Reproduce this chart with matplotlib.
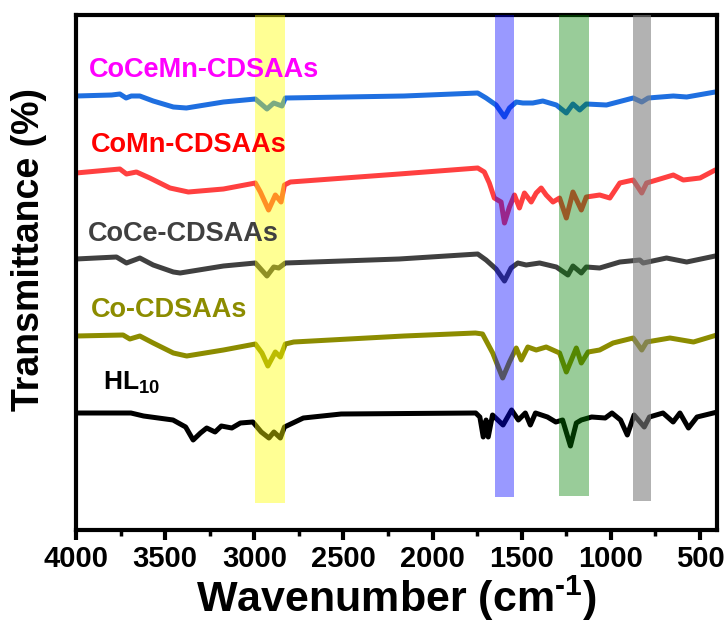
import matplotlib
matplotlib.use("Agg")
import matplotlib.pyplot as plt
from matplotlib.ticker import MultipleLocator

plt.rcParams['font.family'] = ['Liberation Sans', 'DejaVu Sans']
plt.rcParams['font.weight'] = 'bold'
plt.rcParams['mathtext.fontset'] = 'custom'
plt.rcParams['mathtext.rm'] = 'Liberation Sans:bold'
plt.rcParams['mathtext.bf'] = 'Liberation Sans:bold'
plt.rcParams['mathtext.default'] = 'bf'

# ---------------- data (offset transmittance, arbitrary units) ----------------
blue_wn = [4000, 3800, 3754, 3719, 3690, 3642, 3567, 3454, 3381, 3173, 2994, 2929, 2891, 2845, 2826,
           2160, 1747, 1700, 1644, 1597, 1569, 1531, 1494, 1438, 1382, 1306, 1250, 1213, 1175, 1138,
           1025, 875, 827, 791, 650, 575, 415]
blue_T = [434, 435, 436, 432, 434, 434, 429, 423, 422, 428, 431, 421, 427, 424, 432,
          434, 437, 432, 425, 413, 422, 428, 427, 427, 429, 425, 417, 426, 420, 426,
          425, 432, 428, 432, 434, 433, 438]

red_wn = [4000, 3754, 3717, 3661, 3586, 3473, 3370, 3173, 2994, 2966, 2920, 2882, 2850, 2831, 2798,
          2188, 1747, 1710, 1682, 1654, 1616, 1597, 1569, 1541, 1513, 1485, 1447, 1419, 1391, 1363,
          1325, 1288, 1250, 1213, 1166, 1138, 1063, 1006, 950, 875, 827, 800, 706, 650, 594, 500, 415]
red_T = [357, 361, 356, 358, 352, 342, 338, 341, 347, 338, 320, 335, 328, 345, 348,
         356, 362, 358, 347, 332, 328, 307, 323, 335, 322, 337, 328, 337, 342, 335,
         328, 332, 312, 338, 320, 333, 335, 332, 347, 350, 337, 347, 352, 355, 350, 352, 360]

gray_wn = [4000, 3773, 3717, 3642, 3567, 3454, 3416, 3173, 2994, 2929, 2891, 2863, 2826,
           2188, 1747, 1700, 1644, 1597, 1560, 1522, 1475, 1400, 1306, 1241, 1213, 1166, 1138,
           1063, 950, 838, 819, 688, 575, 415]
gray_T = [271, 273, 267, 272, 265, 258, 257, 264, 267, 254, 263, 262, 267,
          271, 276, 270, 261, 249, 262, 267, 265, 267, 263, 255, 264, 257, 263,
          262, 268, 270, 267, 272, 268, 274]

olive_wn = [4000, 3736, 3698, 3642, 3567, 3454, 3379, 3173, 2994, 2957, 2924, 2882, 2854, 2826, 2779,
            2160, 1760, 1720, 1690, 1663, 1607, 1569, 1531, 1503, 1466, 1419, 1363, 1288, 1250, 1194,
            1166, 1128, 1063, 988, 875, 827, 800, 669, 537, 406]
olive_T = [194, 195, 191, 194, 187, 177, 174, 180, 186, 177, 164, 178, 173, 186, 188,
           194, 197, 196, 186, 177, 152, 168, 182, 170, 183, 180, 183, 177, 158, 182,
           167, 178, 180, 187, 192, 180, 188, 192, 188, 195]

black_wn = [4000, 3692, 3621, 3456, 3385, 3343, 3302, 3267, 3220, 3185, 3126, 3078, 3008, 2961, 2918,
            2890, 2854, 2831, 2725, 2513, 1758, 1735, 1716, 1700, 1688, 1664, 1605, 1557, 1519, 1480,
            1452, 1423, 1356, 1309, 1271, 1227, 1194, 1166, 1108, 1032, 994, 946, 908, 870, 813,
            784, 708, 651, 613, 565, 517, 403]
black_T = [117, 117, 114, 110, 103, 90, 97, 102, 98, 104, 102, 107, 108, 98, 92,
           98, 92, 103, 112, 116, 117, 113, 93, 110, 93, 115, 105, 120, 110, 117,
           105, 117, 113, 108, 110, 84, 107, 110, 113, 112, 117, 110, 95, 115, 103,
           113, 117, 108, 117, 102, 113, 118]

series_names = ['CoCeMn-CDSAAs', 'CoMn-CDSAAs', 'CoCe-CDSAAs', 'Co-CDSAAs', 'HL$_{10}$']
line_colors = ['#1f6fe0', '#ff4040', '#404040', '#8c8c00', '#000000']
label_colors = ['#ff00ff', '#ff0000', '#404040', '#8c8c00', '#000000']

# highlighted bands (wavenumber ranges)
band_lo = [2826, 1546, 1124, 777]
band_hi = [2998, 1648, 1293, 877]
band_bottom = [27, 33, 34, 29]
band_colors = ['yellow', 'blue', 'green', 'gray']
band_alpha = [0.42, 0.4, 0.4, 0.6]

x_ticks = [4000, 3500, 3000, 2500, 2000, 1500, 1000, 500]

# ---------------- figure ----------------
fig = plt.figure(figsize=(7.27, 6.23), dpi=100)
ax = fig.add_axes([76 / 727, 1 - 530 / 623, 641 / 727, 515 / 623])

wns = [blue_wn, red_wn, gray_wn, olive_wn, black_wn]
Ts = [blue_T, red_T, gray_T, olive_T, black_T]
for wn, T, c in zip(wns, Ts, line_colors):
    ax.plot(wn, T, color=c, lw=3.6, solid_joinstyle='round', solid_capstyle='round', zorder=2)

top = 520
for lo, hi, b, c, a in zip(band_lo, band_hi, band_bottom, band_colors, band_alpha):
    ax.bar(lo, top - b, width=hi - lo, bottom=b, align='edge', color=c, alpha=a,
           linewidth=0, zorder=3)

label_x = [0.020, 0.023, 0.018, 0.023, 0.042]
label_y = [0.880, 0.734, 0.561, 0.414, 0.272]
label_size = [19.5, 19.5, 19.5, 19.5, 19]
for name, c, lx, ly, fs in zip(series_names, label_colors, label_x, label_y, label_size):
    ax.text(lx, ly, name, color=c, fontsize=fs, fontweight='bold',
            transform=ax.transAxes, ha='left', va='baseline', zorder=4)

ax.set_xlim(4000, 405)
ax.set_ylim(0, 515)
ax.set_xticks(x_ticks)
ax.set_xticklabels([str(t) for t in x_ticks])
ax.xaxis.set_minor_locator(MultipleLocator(250))
ax.set_yticks([])

for s in ax.spines.values():
    s.set_linewidth(3.0)
ax.tick_params(axis='x', which='major', direction='out', length=7, width=3,
               labelsize=21, pad=4)
ax.tick_params(axis='x', which='minor', direction='out', length=4, width=2.5)
for lab in ax.get_xticklabels():
    lab.set_fontweight('bold')

ax.set_xlabel(r'Wavenumber (cm$^{\text{-1}}$)', fontsize=31, fontweight='bold')
ax.xaxis.set_label_coords(0.5, -0.085)
ax.set_ylabel('Transmittance (%)', fontsize=27, fontweight='bold')
ax.yaxis.set_label_coords(-0.045, 0.544)

fig.savefig('out.png', dpi=100)
